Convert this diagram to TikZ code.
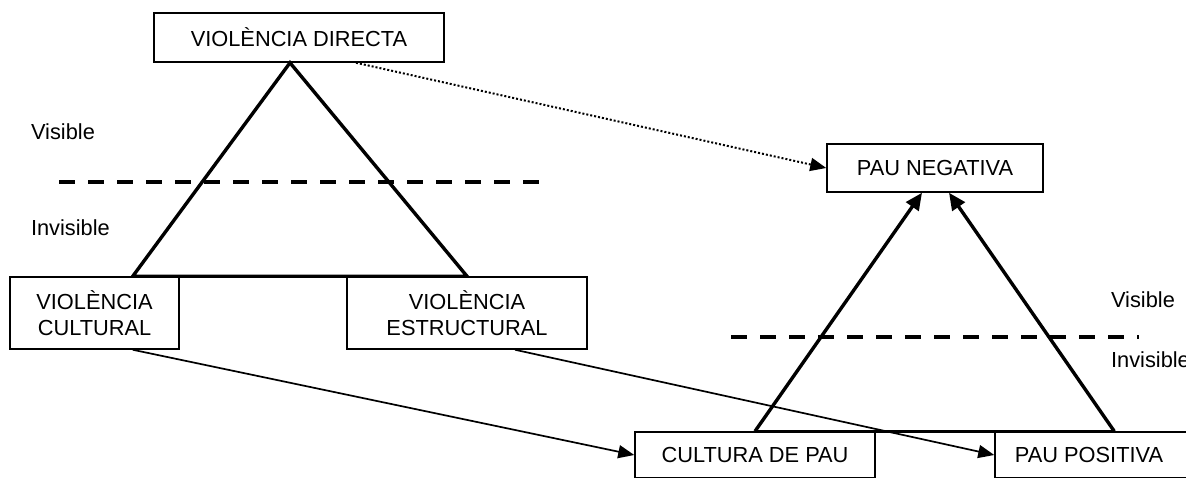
\documentclass[tikz,border=0pt]{standalone}
\usepackage{fontspec}
\setmainfont{Liberation Sans}
\usetikzlibrary{shapes,arrows,arrows.meta}

\begin{document}
\begin{tikzpicture}[x=0.5pt,y=-0.5pt,
    font=\fontsize{10.9}{13}\selectfont,
    box/.style={rectangle, draw, line width=0.75pt, fill=white, align=center},
    side/.style={line width=1.7pt},
    cut/.style={line width=1.6pt, dash pattern=on 8pt off 6.5pt},
    link/.style={line width=0.85pt, -{Triangle[length=8pt,width=6.5pt]}},
    rise/.style={line width=1.7pt, -{Triangle[length=8.5pt,width=7.5pt]}}]

  \useasboundingbox (0,0) rectangle (1186,477);
  \clip (0,0) rectangle (1186,477);

      % violence triangle
      \node[box,
            minimum width = 145pt,
            minimum height = 24.5pt] (VD) at (299,37.5) {VIOLÈNCIA DIRECTA};

      \node[box,
            minimum width = 84.5pt,
            minimum height = 36pt] (VC) at (94.5,313) {VIOLÈNCIA\\CULTURAL};

      \node[box,
            minimum width = 120pt,
            minimum height = 36pt] (VE) at (467,313) {VIOLÈNCIA\\ESTRUCTURAL};

      \draw[side] ([xshift=-23.5pt]VC.north east) -- ([xshift=-4.5pt]VD.south)
                  -- (VE.north) -- cycle;

      \draw[cut] (59,182) -- (540,182);
      \node[anchor=west] (vis1) at (24,132) {Visible};
      \node[anchor=west] (inv1) at (24,228) {Invisible};

      % peace triangle
      \node[box,
            minimum width = 108pt,
            minimum height = 24pt] (PN) at (935,168) {PAU NEGATIVA};

      \node[box,
            minimum width = 120pt,
            minimum height = 23pt] (CP) at (755,455) {CULTURA DE PAU};

      \node[box,
            minimum width = 130pt,
            minimum height = 23pt] (PPbox) at (1125,455) {};
      \node (PP) at (1089,455) {PAU POSITIVA};

      \draw[side] (CP.north) -- ([xshift=60pt]PPbox.north west);
      \draw[rise] (CP.north) -- ([xshift=-6.5pt]PN.south);
      \draw[rise] ([xshift=60pt]PPbox.north west) -- ([xshift=7pt]PN.south);

      \draw[cut] (731,337) -- (1139,337);
      \node[anchor=west] (vis2) at (1104,300) {Visible};
      \node[anchor=west] (inv2) at (1104,360) {Invisible};

      % links between the two
      \draw[link, line width=1pt, dash pattern=on 1pt off 1pt]
            ([xshift=28.5pt]VD.south) -- (PN.west);
      \draw[link] ([xshift=-23.5pt]VC.south east) -- (CP.west);
      \draw[link] ([xshift=24pt]VE.south) -- (PPbox.west);

\end{tikzpicture}
\end{document}
